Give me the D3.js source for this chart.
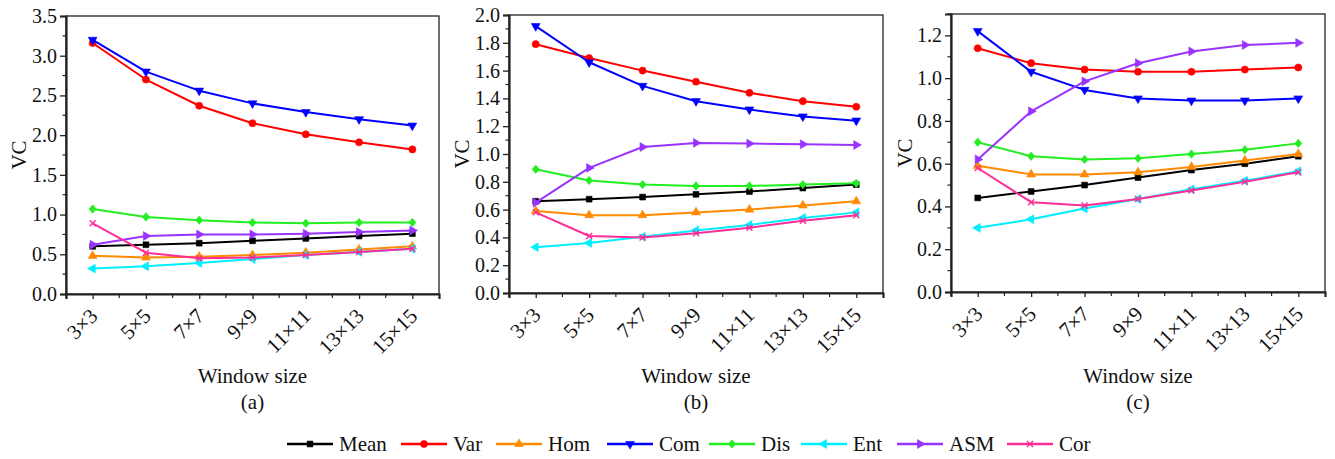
<!DOCTYPE html>
<html>
<head>
<meta charset="utf-8">
<script src="https://cdn.jsdelivr.net/npm/d3@7"></script>
<style>
  html, body { margin: 0; padding: 0; background: #fff; }
</style>
</head>
<body>
<svg id="chart" width="1335" height="459"></svg>
<script>
// Window sizes along the x axis
const windowSizes = ["3×3", "5×5", "7×7", "9×9", "11×11", "13×13", "15×15"];

// Texture features (series)
const seriesNames = ["Mean", "Var", "Hom", "Com", "Dis", "Ent", "ASM", "Cor"];
const seriesColors = ["#000000", "#ff0000", "#ff8a00", "#0000ff", "#22ee22", "#00eeff", "#9933ff", "#ff2d96"];
const seriesSymbols = ["square", "circle", "triUp", "triDown", "diamond", "triLeft", "triRight", "cross"];

// Panel (a)
const meanA = [0.60, 0.62, 0.64, 0.67, 0.70, 0.73, 0.76];
const varA  = [3.16, 2.70, 2.37, 2.15, 2.01, 1.91, 1.82];
const homA  = [0.48, 0.46, 0.47, 0.49, 0.52, 0.56, 0.60];
const comA  = [3.20, 2.80, 2.56, 2.40, 2.29, 2.20, 2.12];
const disA  = [1.07, 0.97, 0.93, 0.90, 0.89, 0.90, 0.90];
const entA  = [0.32, 0.35, 0.39, 0.44, 0.49, 0.53, 0.57];
const asmA  = [0.62, 0.73, 0.75, 0.75, 0.76, 0.78, 0.80];
const corA  = [0.89, 0.52, 0.45, 0.46, 0.49, 0.53, 0.57];

// Panel (b)
const meanB = [0.66, 0.675, 0.69, 0.71, 0.73, 0.755, 0.78];
const varB  = [1.79, 1.69, 1.60, 1.52, 1.44, 1.38, 1.34];
const homB  = [0.59, 0.56, 0.56, 0.58, 0.60, 0.63, 0.66];
const comB  = [1.92, 1.66, 1.49, 1.38, 1.32, 1.27, 1.24];
const disB  = [0.89, 0.81, 0.78, 0.77, 0.77, 0.78, 0.79];
const entB  = [0.33, 0.36, 0.405, 0.45, 0.49, 0.54, 0.58];
const asmB  = [0.65, 0.90, 1.05, 1.08, 1.075, 1.07, 1.065];
const corB  = [0.58, 0.41, 0.40, 0.43, 0.47, 0.52, 0.56];

// Panel (c)
const meanC = [0.44, 0.47, 0.50, 0.535, 0.57, 0.60, 0.635];
const varC  = [1.14, 1.07, 1.04, 1.03, 1.03, 1.04, 1.05];
const homC  = [0.59, 0.55, 0.55, 0.56, 0.585, 0.615, 0.645];
const comC  = [1.22, 1.03, 0.945, 0.905, 0.895, 0.895, 0.905];
const disC  = [0.70, 0.635, 0.62, 0.625, 0.645, 0.665, 0.695];
const entC  = [0.30, 0.34, 0.39, 0.435, 0.48, 0.52, 0.565];
const asmC  = [0.62, 0.845, 0.985, 1.07, 1.125, 1.155, 1.165];
const corC  = [0.58, 0.42, 0.405, 0.435, 0.475, 0.515, 0.56];

// Y tick values per panel
const ticksA = [0, 0.5, 1.0, 1.5, 2.0, 2.5, 3.0, 3.5];
const ticksB = [0, 0.2, 0.4, 0.6, 0.8, 1.0, 1.2, 1.4, 1.6, 1.8, 2.0];
const ticksC = [0, 0.2, 0.4, 0.6, 0.8, 1.0, 1.2];
const panelLabels = ["(a)", "(b)", "(c)"];

const panels = [
  { label: panelLabels[0], yMax: 3.5, ticks: ticksA, minorStep: 0.25,
    values: [meanA, varA, homA, comA, disA, entA, asmA, corA],
    left: 66, right: 439, top: 16, bottom: 294, vcX: 19 },
  { label: panelLabels[1], yMax: 2.0, ticks: ticksB, minorStep: 0.1,
    values: [meanB, varB, homB, comB, disB, entB, asmB, corB],
    left: 509, right: 883, top: 15, bottom: 293, vcX: 462 },
  { label: panelLabels[2], yMax: 1.3, ticks: ticksC, minorStep: 0.1,
    values: [meanC, varC, homC, comC, disC, entC, asmC, corC],
    left: 951, right: 1325, top: 14, bottom: 292, vcX: 905 }
];

const FONT = "Liberation Serif";
const svg = d3.select("#chart");

// Marker path for a given symbol kind, centred on the origin
function markerPath(kind) {
  const tri = d3.symbol().type(d3.symbolTriangle).size(34)();
  switch (kind) {
    case "square": return { d: d3.symbol().type(d3.symbolSquare).size(34)(), rot: 0 };
    case "circle": return { d: d3.symbol().type(d3.symbolCircle).size(40)(), rot: 0 };
    case "triUp": return { d: tri, rot: 0 };
    case "triDown": return { d: tri, rot: 180 };
    case "triLeft": return { d: tri, rot: -90 };
    case "triRight": return { d: tri, rot: 90 };
    case "diamond": return { d: "M0,-4.2L3.6,0L0,4.2L-3.6,0Z", rot: 0 };
    case "cross": return { d: "M-3,-3L3,3M-3,3L3,-3", rot: 0, stroke: true };
  }
}

function drawMarker(g, kind, color, x, y) {
  const m = markerPath(kind);
  const p = g.append("path")
    .attr("d", m.d)
    .attr("transform", `translate(${x},${y}) rotate(${m.rot})`);
  if (m.stroke) p.attr("fill", "none").attr("stroke", color).attr("stroke-width", 1.4);
  else p.attr("fill", color).attr("stroke", color).attr("stroke-width", 0.6);
}

function serif(sel, size) {
  return sel.attr("font-family", FONT).attr("font-size", size).attr("fill", "#111");
}

panels.forEach(p => {
  const g = svg.append("g");
  const x = d3.scalePoint().domain(windowSizes).range([p.left, p.right]).padding(0.5);
  const y = d3.scaleLinear().domain([0, p.yMax]).range([p.bottom, p.top]);
  const step = x.step();

  // Frame
  g.append("rect")
    .attr("x", p.left).attr("y", p.top)
    .attr("width", p.right - p.left).attr("height", p.bottom - p.top)
    .attr("fill", "none").attr("stroke", "#222").attr("stroke-width", 1.3);

  // Y axis
  const yAxis = d3.axisLeft(y).tickValues(p.ticks).tickSize(6).tickPadding(3)
    .tickFormat(d3.format(".1f"));
  const ya = g.append("g").attr("transform", `translate(${p.left},0)`).call(yAxis);
  ya.attr("font-family", FONT).attr("font-size", 20);
  ya.select(".domain").attr("stroke", "#222").attr("stroke-width", 2.2);
  ya.selectAll(".tick line").attr("stroke", "#222").attr("stroke-width", 1.3);
  serif(ya.selectAll(".tick text"), 20);

  // Y minor ticks
  const minors = d3.range(p.minorStep, p.yMax + 1e-6, p.minorStep * 2).map(v => +v.toFixed(3));
  g.selectAll(null).data(minors).enter().append("line")
    .attr("x1", p.left - 3.5).attr("x2", p.left)
    .attr("y1", d => y(d)).attr("y2", d => y(d))
    .attr("stroke", "#222").attr("stroke-width", 1.2);

  // X axis
  const xAxis = d3.axisBottom(x).tickSize(5).tickFormat("");
  const xa = g.append("g").attr("transform", `translate(0,${p.bottom})`).call(xAxis);
  xa.select(".domain").attr("stroke", "#222").attr("stroke-width", 2.2);
  xa.selectAll(".tick line").attr("stroke", "#222").attr("stroke-width", 1.3);

  // X minor ticks halfway between categories
  const mids = windowSizes.slice(0, -1).map(w => x(w) + step / 2);
  mids.push(x(windowSizes[0]) - step / 2);
  g.selectAll(null).data(mids).enter().append("line")
    .attr("x1", d => d).attr("x2", d => d)
    .attr("y1", p.bottom).attr("y2", p.bottom + 4)
    .attr("stroke", "#222").attr("stroke-width", 1.2);

  // Rotated category labels
  serif(g.selectAll(null).data(windowSizes).enter().append("text"), 21)
    .attr("transform", d => `translate(${x(d) + 1},${p.bottom + 18}) rotate(-45)`)
    .attr("text-anchor", "end")
    .attr("dy", "0.35em")
    .text(d => d);

  // Axis titles
  serif(g.append("text"), 21)
    .attr("transform", `translate(${p.vcX},${(p.top + p.bottom) / 2}) rotate(-90)`)
    .attr("text-anchor", "middle").attr("dy", "0.35em")
    .text("VC");
  serif(g.append("text"), 21)
    .attr("x", (p.left + p.right) / 2).attr("y", 383)
    .attr("text-anchor", "middle").text("Window size");
  serif(g.append("text"), 21)
    .attr("x", (p.left + p.right) / 2).attr("y", 409)
    .attr("text-anchor", "middle").text(p.label);

  // Series lines and markers
  const line = d3.line().x((d, i) => x(windowSizes[i])).y(d => y(d));
  p.values.forEach((vals, si) => {
    const sg = g.append("g");
    sg.append("path").datum(vals)
      .attr("d", line)
      .attr("fill", "none")
      .attr("stroke", seriesColors[si])
      .attr("stroke-width", 2)
      .attr("stroke-linejoin", "round");
    vals.forEach((v, i) => drawMarker(sg, seriesSymbols[si], seriesColors[si], x(windowSizes[i]), y(v)));
  });
});

// Legend
const legendY = 444;
const legendXs = [287, 401, 496, 607, 709, 801, 897, 1007];
const lg = svg.append("g");
seriesNames.forEach((name, i) => {
  const x0 = legendXs[i];
  lg.append("line")
    .attr("x1", x0).attr("x2", x0 + 46)
    .attr("y1", legendY).attr("y2", legendY)
    .attr("stroke", seriesColors[i]).attr("stroke-width", 2.4);
  drawMarker(lg, seriesSymbols[i], seriesColors[i], x0 + 23, legendY);
  serif(lg.append("text"), 21)
    .attr("x", x0 + 52).attr("y", legendY).attr("dy", "0.35em")
    .text(name);
});
</script>
</body>
</html>
